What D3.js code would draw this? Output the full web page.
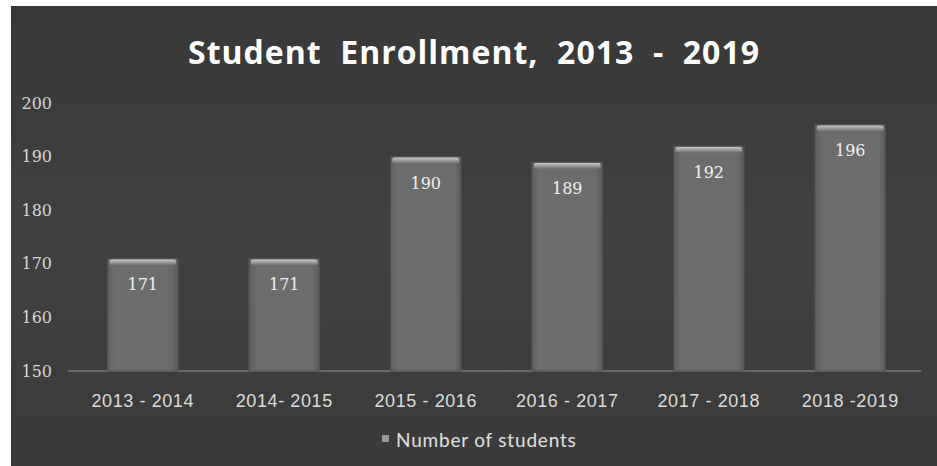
<!DOCTYPE html>
<html><head><meta charset="utf-8">
<script src="https://cdn.jsdelivr.net/npm/d3@7"></script>
<style>html,body{margin:0;padding:0;background:#fff;}svg{display:block;}</style>
</head><body>
<script>
const categories = ["2013 - 2014", "2014- 2015", "2015 - 2016", "2016 - 2017", "2017 - 2018", "2018 -2019"];
const students = [171, 171, 190, 189, 192, 196];
const yTicks = [150, 160, 170, 180, 190, 200];
const seriesName = "Number of students";
const title = "Student  Enrollment,  2013  -  2019";

const W = 937, H = 466;
const svg = d3.select("body").append("svg").attr("width", W).attr("height", H);
const defs = svg.append("defs");

const bg = defs.append("linearGradient").attr("id","bg").attr("x1",0).attr("y1",0).attr("x2",0).attr("y2",1);
bg.append("stop").attr("offset","0%").attr("stop-color","#383838");
bg.append("stop").attr("offset","50%").attr("stop-color","#404040");
bg.append("stop").attr("offset","100%").attr("stop-color","#3a3a3a");

const bar = defs.append("linearGradient").attr("id","bar").attr("x1",0).attr("y1",0).attr("x2",1).attr("y2",0);
bar.append("stop").attr("offset","0%").attr("stop-color","#5e5e5e");
bar.append("stop").attr("offset","10%").attr("stop-color","#6c6c6c");
bar.append("stop").attr("offset","90%").attr("stop-color","#6c6c6c");
bar.append("stop").attr("offset","100%").attr("stop-color","#5a5a5a");

const hl = defs.append("linearGradient").attr("id","hl").attr("x1",0).attr("y1",0).attr("x2",0).attr("y2",1);
hl.append("stop").attr("offset","0%").attr("stop-color","#c8c8c8");
hl.append("stop").attr("offset","100%").attr("stop-color","#6c6c6c");

svg.append("rect").attr("x",11).attr("y",6).attr("width",W-11).attr("height",H-6).attr("fill","url(#bg)");

const x = d3.scaleBand().domain(categories).range([72, 921]).paddingInner(0.5).paddingOuter(0.25);
const y = d3.scaleLinear().domain([150, 200]).range([371, 103]);

// title
svg.append("text").attr("x", 474).attr("y", 64).attr("text-anchor","middle")
  .attr("font-family","Open Sans, Lato, sans-serif").attr("font-weight","bold")
  .attr("font-size", 32).attr("letter-spacing", 1).attr("fill","#ffffff")
  .attr("xml:space","preserve").style("white-space","pre").text(title);

// y axis
const yAxis = svg.append("g").attr("transform","translate(52,0)")
  .call(d3.axisLeft(y).tickValues(yTicks).tickSize(0).tickPadding(0));
yAxis.select(".domain").remove();
yAxis.selectAll("text").attr("font-family","DejaVu Serif, serif").attr("font-size",16).attr("fill","#d6d6d6");

// x axis
const xAxis = svg.append("g").attr("transform","translate(0,371)")
  .call(d3.axisBottom(x).tickSize(0).tickPadding(23));
xAxis.select(".domain").attr("stroke","#7a7a7a").attr("stroke-width",1.5).attr("d","M68,0H921");
xAxis.selectAll("text").attr("font-family","Liberation Sans, Arial, sans-serif").attr("font-size",18)
  .attr("letter-spacing",0.6).attr("fill","#dcdcdc");

// bars
const g = svg.append("g");
g.selectAll("rect.bar").data(students).join("rect").attr("class","bar")
  .attr("x",(d,i)=>x(categories[i])).attr("y",d=>y(d))
  .attr("width",x.bandwidth()).attr("height",d=>y(150)-y(d))
  .attr("fill","url(#bar)").attr("stroke","#4e4e4e").attr("stroke-width",1);
g.selectAll("rect.hl").data(students).join("rect").attr("class","hl")
  .attr("x",(d,i)=>x(categories[i])+2).attr("y",d=>y(d)+1)
  .attr("width",x.bandwidth()-4).attr("height",6).attr("rx",2)
  .attr("fill","url(#hl)");
g.selectAll("text.lbl").data(students).join("text").attr("class","lbl")
  .attr("x",(d,i)=>x(categories[i])+x.bandwidth()/2).attr("y",d=>y(d)+32)
  .attr("text-anchor","middle").attr("font-family","DejaVu Serif, serif").attr("font-size",16)
  .attr("fill","#f0f0f0").text(d=>d);

// legend
svg.append("rect").attr("x",382).attr("y",435).attr("width",7).attr("height",7).attr("fill","#9a9a9a");
svg.append("text").attr("x",396).attr("y",447).attr("font-family","Lato, Open Sans, sans-serif")
  .attr("font-size",19).attr("letter-spacing",0.8).attr("fill","#e0e0e0").text(seriesName);
</script>
</body></html>
